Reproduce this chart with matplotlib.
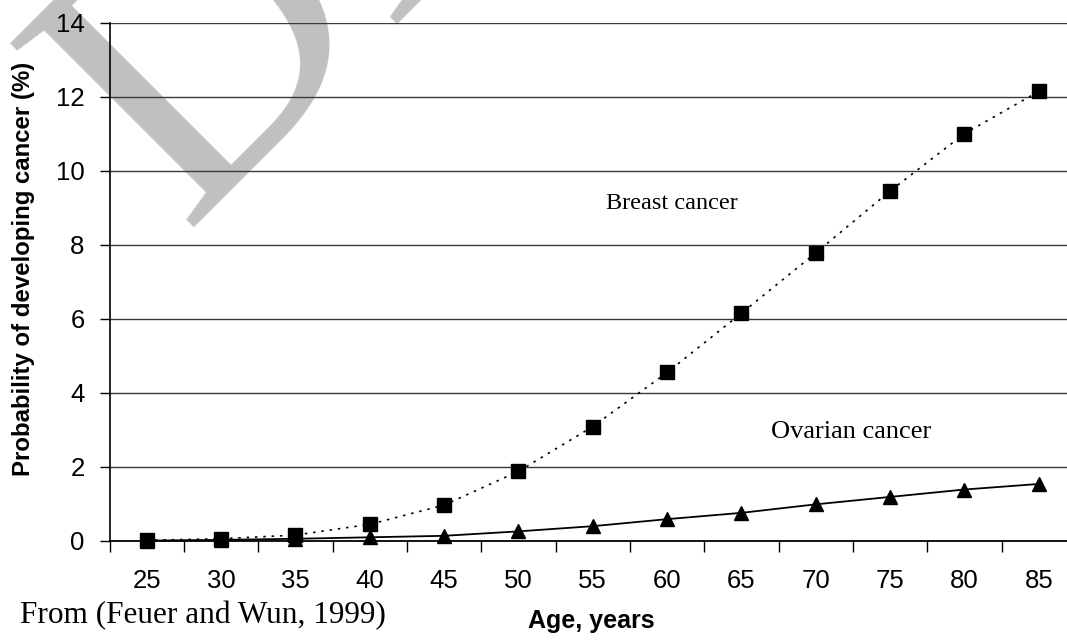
import numpy as np
import matplotlib
matplotlib.use('Agg')
from matplotlib import pyplot as plt

ages = ['25', '30', '35', '40', '45', '50', '55', '60', '65', '70', '75', '80', '85']
breast = [0.02, 0.06, 0.16, 0.45, 0.97, 1.88, 3.09, 4.55, 6.15, 7.78, 9.45, 11.0, 12.14]
ovarian = [0.01, 0.03, 0.06, 0.10, 0.14, 0.26, 0.40, 0.59, 0.76, 0.99, 1.19, 1.39, 1.54]
yticks = [0, 2, 4, 6, 8, 10, 12, 14]

W, H = 1067, 641
fig = plt.figure(figsize=(W / 100, H / 100), dpi=100)
fig.patch.set_facecolor('white')

# plot area in pixels: left 109.5, right 1076 (runs off the picture), top 22.5, bottom 541
ax = fig.add_axes([109.5 / W, 1 - 541 / H, 966.5 / W, 518.5 / H])
ax.patch.set_alpha(0)

# faded watermark behind everything
fig.text(183 / W, 1 - 228 / H, 'DRAFT', rotation=45, rotation_mode='anchor',
         ha='left', va='baseline', fontsize=285, color='#c0c0c0',
         family='Liberation Serif', zorder=-10)

x = np.arange(len(ages))
ax.plot(x, breast, color='black', lw=1.2, linestyle=(0, (1.5, 3.5)),
        marker='s', markersize=10, markerfacecolor='black', markeredgecolor='black',
        zorder=4, clip_on=False)
ax.plot(x, ovarian, color='black', lw=1.3, linestyle='-',
        marker='^', markersize=10.5, markerfacecolor='black', markeredgecolor='black',
        zorder=4, clip_on=False)

ax.set_xlim(-0.5, len(ages) - 0.5)
ax.set_ylim(0, 14)

for v in yticks[1:]:
    ax.axhline(v, color='#3a3a3a', lw=1.0, zorder=1)

for s in ['top', 'right']:
    ax.spines[s].set_visible(False)
ax.spines['left'].set_linewidth(1.2)
ax.spines['bottom'].set_linewidth(1.3)

ax.set_yticks(yticks)
ax.set_yticklabels([str(v) for v in yticks], family='Liberation Sans', fontsize=18.5)
ax.tick_params(axis='y', direction='out', length=7, width=1.0, pad=11)

ax.set_xticks(x)
ax.set_xticklabels(ages, family='Liberation Sans', fontsize=18.5)
ax.set_xticks(np.arange(-0.5, len(ages), 1.0), minor=True)
ax.tick_params(axis='x', which='major', length=0, pad=20)
ax.tick_params(axis='x', which='minor', direction='out', length=8, width=1.0)

ax.set_ylabel('Probability of developing cancer (%)', family='Liberation Sans',
              fontsize=17.3, fontweight='bold')
ax.yaxis.set_label_coords(-0.077, 0.525)

fig.text(591 / W, 1 - 628 / H, 'Age, years', ha='center', va='baseline',
         family='Liberation Sans', fontsize=18, fontweight='bold')
fig.text(20 / W, 1 - 623 / H, 'From (Feuer and Wun, 1999)', ha='left', va='baseline',
         family='Liberation Serif', fontsize=22.5)

ax.text(7.07, 9.1, 'Breast cancer', ha='center', va='center',
        family='Liberation Serif', fontsize=17.5)
ax.text(9.47, 2.94, 'Ovarian cancer', ha='center', va='center',
        family='Liberation Serif', fontsize=19)

fig.savefig('out.png', dpi=100)
